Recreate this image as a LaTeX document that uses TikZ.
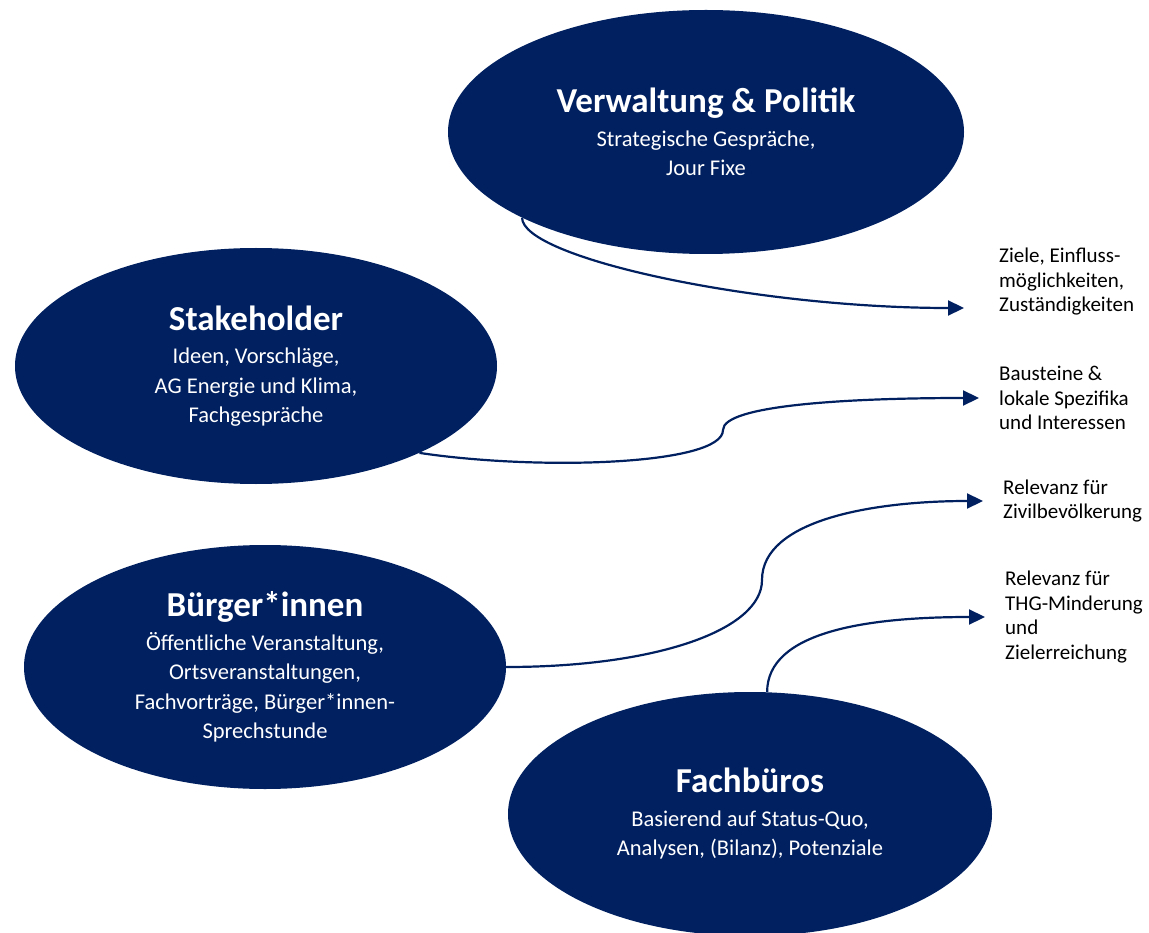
\documentclass[tikz,border=0pt]{standalone}
\usepackage{fontspec}
\setmainfont{Carlito}
\usetikzlibrary{shapes.geometric,arrows.meta}
\definecolor{navy}{HTML}{002060}
\tikzset{
    blob/.style={ellipse, fill=navy, text=white, inner sep=0pt, align=center,
        font=\fontsize{22.5}{29.5}\selectfont},
    note/.style={anchor=west, inner sep=0pt, align=left,
        font=\fontsize{21}{24.5}\selectfont},
    link/.style={draw=navy, line width=2.2pt, -{Triangle[length=16pt,width=15pt]}}
}
\newcommand{\head}[1]{{\fontsize{35}{40}\selectfont\bfseries #1}}
\begin{document}
\begin{tikzpicture}[x=1pt, y=-1pt]
    \useasboundingbox (0,0) rectangle (1149,933);
    % ellipses
    \node[blob, minimum width=516, minimum height=244] (verw) at (706,132)
        {\head{Verwaltung \& Politik}\\[4pt] Strategische Gespräche,\\ Jour Fixe};
    \node[blob, minimum width=482, minimum height=236] (stake) at (256,366)
        {\head{Stakeholder}\\[4pt] Ideen, Vorschläge,\\ AG Energie und Klima,\\ Fachgespräche};
    \node[blob, minimum width=482, minimum height=244] (buerger) at (265,667)
        {\head{Bürger*innen}\\[4pt] Öffentliche Veranstaltung,\\ Ortsveranstaltungen,\\ Fachvorträge, Bürger*innen-\\ Sprechstunde};
    \node[blob, minimum width=484, minimum height=244] (fach) at (750,814)
        {\head{Fachbüros}\\[4pt] Basierend auf Status-Quo,\\ Analysen, (Bilanz), Potenziale};
    % notes
    \node[note] (ziele) at (999,282) {Ziele, Einfluss-\\möglichkeiten,\\Zuständigkeiten};
    \node[note] (bau) at (999,398) {Bausteine \&\\lokale Spezifika\\und Interessen};
    \node[note] (zivil) at (1003,501) {Relevanz für\\Zivilbevölkerung};
    \node[note] (thg) at (1005,617) {Relevanz für\\THG-Minderung\\und\\Zielerreichung};
    % connectors
    \draw[link] (verw.205) .. controls +(0,40) and +(-210,0) .. ([shift={(-35,26)}]ziele.west);
    \draw[link] (stake.-28) .. controls +(120,18) and +(0,35) .. (723,430)
        .. controls +(0,-25) and +(-130,0) .. ([xshift=-20pt]bau.west);
    \draw[link] (buerger.east) .. controls +(150,0) and +(0,50) .. (762,580)
        .. controls +(0,-60) and +(-110,0) .. ([xshift=-20pt]zivil.west);
    \draw[link] (fach.82) .. controls +(0,-60) and +(-120,0) .. ([xshift=-20pt]thg.west);
\end{tikzpicture}
\end{document}
